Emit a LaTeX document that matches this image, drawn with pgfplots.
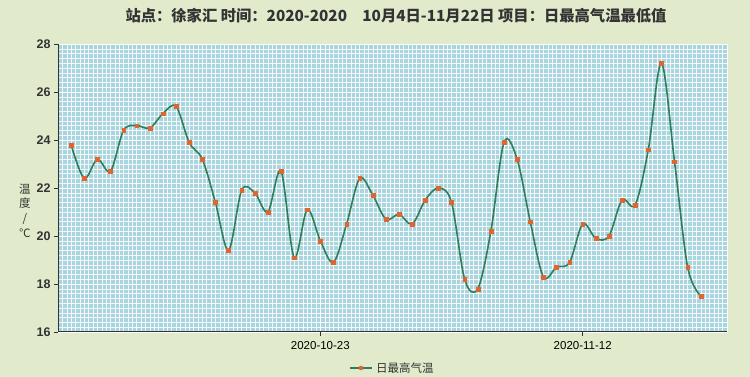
\documentclass[border=0pt]{standalone}
\usepackage{pgfplots}
\pgfplotsset{compat=1.18}
\usepackage{fontspec}
\setmainfont{Liberation Sans}
\newfontfamily\cjk{Noto Sans CJK SC}
\definecolor{bgc}{HTML}{E1EBCB}
\definecolor{plotc}{HTML}{A8D5DE}
\definecolor{linec}{HTML}{2E7D5B}
\definecolor{markc}{HTML}{E0652E}
\definecolor{axc}{HTML}{333333}
\pgfplotstableread{
x y
0 23.8
1 22.4
2 23.2
3 22.7
4 24.4
5 24.6
6 24.5
7 25.1
8 25.4
9 23.9
10 23.2
11 21.4
12 19.4
13 21.9
14 21.8
15 21.0
16 22.7
17 19.1
18 21.1
19 19.8
20 18.9
21 20.5
22 22.4
23 21.7
24 20.7
25 20.9
26 20.5
27 21.5
28 22.0
29 21.4
30 18.2
31 17.8
32 20.2
33 23.9
34 23.2
35 20.6
36 18.3
37 18.7
38 18.9
39 20.5
40 19.9
41 20.0
42 21.5
43 21.3
44 23.6
45 27.2
46 23.1
47 18.7
48 17.5
}\datatable
\begin{document}
\begin{tikzpicture}[x=1pt,y=1pt]
\fill[bgc] (0,0) rectangle (750,377);
\begin{axis}[
  at={(58pt,45pt)}, anchor=south west,
  scale only axis, width=669pt, height=288pt,
  xmin=-1, xmax=50, ymin=16, ymax=28,
  axis background/.style={fill=plotc},
  axis x line*=bottom, axis y line*=left,
  axis line style={axc, line width=1pt, -},
  xtick={19,39}, xticklabels={2020-10-23,2020-11-12},
  ytick={16,18,...,28},
  minor xtick={-1,-0.666667,...,50.1},
  minor ytick={16,16.2,...,28.1},
  grid=both,
  major grid style={white, line width=0.45pt, opacity=0.85},
  minor grid style={white, line width=0.45pt, opacity=0.85},
  tick align=outside, major tick length=4pt, minor tick length=0pt,
  tick style={axc, line width=0.8pt},
  /pgf/number format/assume math mode=true,
  xticklabel style={font=\fontsize{11.5}{12}\selectfont, text=black, yshift=-2pt},
  yticklabel style={font=\bfseries\fontsize{12.5}{13}\selectfont, text=axc},
  clip=false,
]
\addplot[linec, line width=1.6pt, smooth, tension=0.55,
  mark=square*, mark size=1.9pt,
  mark options={fill=markc, draw=markc, line width=0.3pt}] table[x=x,y=y] {\datatable};
\end{axis}
\node[font=\cjk\bfseries\fontsize{15.3}{17}\selectfont, text=axc] at (396,361) {站点：徐家汇 时间：2020-2020\quad 10月4日-11月22日 项目：日最高气温最低值};
\begin{scope}[every node/.style={font=\cjk\fontsize{11.5}{12}\selectfont, text=axc, inner sep=0pt}]
\node at (25,188) {温};
\node at (25,174) {度};
\node at (25,158) {/};
\node at (25,144) {℃};
\end{scope}
\draw[linec, line width=1.6pt] (350,9) -- (372,9);
\fill[markc] (361,9) circle (2.3pt);
\node[font=\cjk\fontsize{11.5}{12}\selectfont, text=axc, anchor=west, inner sep=0pt] at (376,9) {日最高气温};
\end{tikzpicture}
\end{document}
